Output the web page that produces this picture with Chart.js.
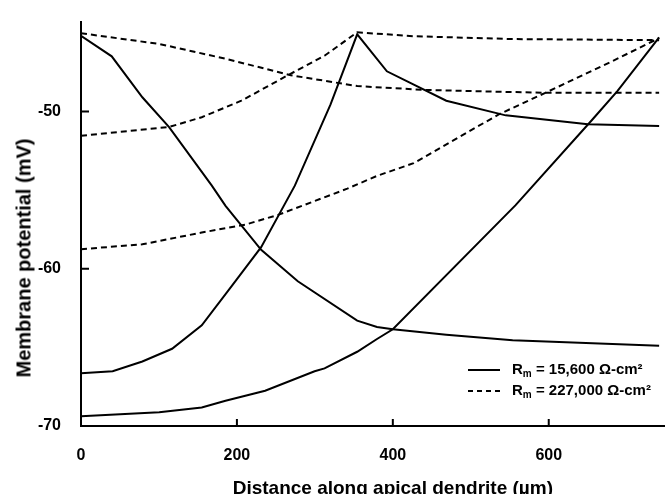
<!DOCTYPE html>
<html>
<head>
<meta charset="utf-8">
<script src="https://cdn.jsdelivr.net/npm/chart.js@4.4.1/dist/chart.umd.min.js"></script>
<style>
    html, body { margin: 0; padding: 0; background: #fff; overflow: hidden; }
    /* the original figure is cropped on the right, so the canvas runs past the frame */
    #wrap { position: relative; width: 665px; height: 494px; overflow: hidden; }
    #chart { position: absolute; left: 0; top: 0; }
    #legend { position: absolute; left: 468px; top: 358px; font: bold 15px "Liberation Sans", Arial, sans-serif; color: #000; }
    #legend .row { height: 21px; line-height: 21px; white-space: nowrap; }
    #legend .sample { display: inline-block; width: 32px; height: 2px; vertical-align: middle; margin-right: 12px; }
    #legend .solid { background: #000; }
    #legend .dashed { background: repeating-linear-gradient(90deg, #000 0 5px, transparent 5px 9px); }
    #legend sub { font-size: 10px; vertical-align: -3px; }
    #ytitle { position: absolute; left: 24px; top: 258px; transform: translate(-50%, -50%) rotate(-90deg);
              font: bold 20px "Liberation Sans", Arial, sans-serif; color: #000; white-space: nowrap; }
</style>
</head>
<body>
<div id="wrap">
    <canvas id="chart" width="730" height="494"></canvas>
    <div id="ytitle">Membrane potential (mV)</div>
    <div id="legend">
        <div class="row"><span class="sample solid"></span>R<sub>m</sub> = 15,600 Ω-cm²</div>
        <div class="row"><span class="sample dashed"></span>R<sub>m</sub> = 227,000 Ω-cm²</div>
    </div>
</div>
<script>
// Rm = 15,600 (solid), current injected at 0, mid and far end
var lowRmSite0Dist = [0, 39.4, 78.7, 113, 167.6, 185.4, 231.1, 278.1, 354.3, 379.7, 400, 468.6, 553.7, 741.6];
var lowRmSite0Vm = [-45.2, -46.5, -49.1, -51.0, -54.7, -56.0, -58.8, -60.8, -63.3, -63.7, -63.85, -64.2, -64.55, -64.9];

var lowRmMidDist = [0, 40.6, 78.7, 116.8, 154.9, 193, 231.1, 274.3, 320, 354.3, 392.4, 468.6, 544.8, 650.2, 741.6];
var lowRmMidVm = [-66.65, -66.52, -65.9, -65.09, -63.6, -61.12, -58.63, -54.72, -49.57, -45.1, -47.45, -49.32, -50.25, -50.81, -50.93];

var lowRmEndDist = [0, 100.3, 154.9, 185.4, 236.2, 299.7, 312.4, 354.3, 379.7, 400, 557.5, 655.2, 688.3, 741.6];
var lowRmEndVm = [-69.38, -69.13, -68.82, -68.39, -67.76, -66.52, -66.34, -65.28, -64.47, -63.85, -55.96, -50.56, -48.7, -45.3];

// Rm = 227,000 (dashed)
var highRmSite0Dist = [0, 100.3, 185.4, 269.2, 354.3, 439.4, 595.6, 741.6];
var highRmSite0Vm = [-45.03, -45.71, -46.65, -47.7, -48.39, -48.63, -48.82, -48.82];

var highRmMidDist = [0, 113, 154.9, 205.7, 265.4, 312.4, 354.3, 426.7, 553.7, 741.6];
var highRmMidVm = [-51.55, -50.99, -50.37, -49.32, -47.7, -46.46, -44.97, -45.22, -45.4, -45.47];

var highRmEndDist = [0, 78.7, 154.9, 210.8, 252.7, 341.6, 379.7, 426.7, 535.9, 595.6, 680.6, 741.6];
var highRmEndVm = [-58.76, -58.45, -57.7, -57.2, -56.58, -54.91, -54.1, -53.29, -50.19, -48.82, -46.83, -45.34];

var xTickStep = 200;
var yTickStep = 10;

function toPoints(dist, vm) {
    return dist.map(function (d, i) { return { x: d, y: vm[i] }; });
}

function series(dist, vm, dashed) {
    return {
        data: toPoints(dist, vm),
        borderColor: '#000',
        borderWidth: 2,
        borderDash: dashed ? [6, 4] : [],
        pointRadius: 0,
        tension: 0,
        fill: false
    };
}

var font = { family: '"Liberation Sans", Arial, sans-serif', weight: 'bold' };

// short tick marks pointing into the plot
var innerTicks = {
    id: 'innerTicks',
    afterDatasetsDraw: function (chart) {
        var ctx = chart.ctx;
        var xs = chart.scales.x, ys = chart.scales.y;
        ctx.save();
        ctx.strokeStyle = '#000';
        ctx.lineWidth = 2;
        ctx.beginPath();
        xs.ticks.forEach(function (t) {
            if (t.value === xs.min) return;
            var px = xs.getPixelForValue(t.value);
            ctx.moveTo(px, ys.bottom);
            ctx.lineTo(px, ys.bottom - 7);
        });
        ys.ticks.forEach(function (t) {
            if (t.value === ys.min) return;
            var py = ys.getPixelForValue(t.value);
            ctx.moveTo(xs.left, py);
            ctx.lineTo(xs.left + 8, py);
        });
        ctx.stroke();
        ctx.restore();
    }
};

new Chart(document.getElementById('chart').getContext('2d'), {
    type: 'line',
    data: {
        datasets: [
            series(lowRmSite0Dist, lowRmSite0Vm, false),
            series(lowRmMidDist, lowRmMidVm, false),
            series(lowRmEndDist, lowRmEndVm, false),
            series(highRmSite0Dist, highRmSite0Vm, true),
            series(highRmMidDist, highRmMidVm, true),
            series(highRmEndDist, highRmEndVm, true)
        ]
    },
    options: {
        responsive: false,
        animation: false,
        devicePixelRatio: 1,
        layout: { padding: { top: 12, right: 19, bottom: 0, left: 0 } },
        plugins: { legend: { display: false }, tooltip: { enabled: false } },
        scales: {
            x: {
                type: 'linear',
                min: 0,
                max: 800,
                grid: { display: false },
                border: { display: true, color: '#000', width: 2 },
                ticks: {
                    stepSize: xTickStep,
                    padding: 12,
                    color: '#000',
                    font: Object.assign({ size: 16 }, font)
                },
                title: {
                    display: true,
                    text: 'Distance along apical dendrite (µm)',
                    color: '#000',
                    font: Object.assign({ size: 19, lineHeight: 1 }, font),
                    padding: { top: 0, bottom: -4 }
                },
                afterFit: function (scale) { scale.height = 68; }
            },
            y: {
                min: -70,
                max: -44.29,
                grid: { display: false },
                border: { display: true, color: '#000', width: 2 },
                ticks: {
                    stepSize: yTickStep,
                    includeBounds: false,
                    padding: 12,
                    color: '#000',
                    font: Object.assign({ size: 16 }, font)
                },
                afterFit: function (scale) { scale.width = 81; }
            }
        }
    },
    plugins: [innerTicks]
});
</script>
</body>
</html>
